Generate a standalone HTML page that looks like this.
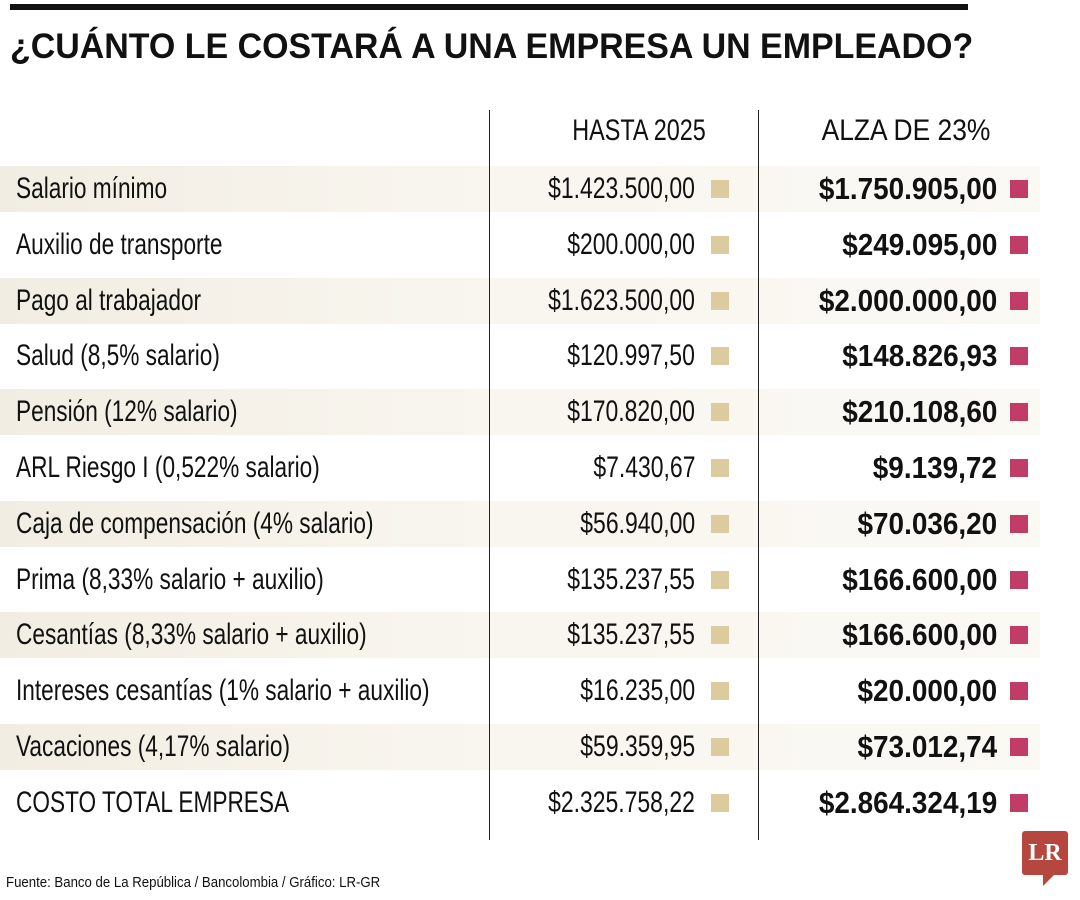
<!DOCTYPE html>
<html><head><meta charset="utf-8">
<style>
body{margin:0;width:1080px;height:900px;background:#fff;position:relative;overflow:hidden;font-family:"Liberation Sans",sans-serif;color:#111}
.a{position:absolute;white-space:nowrap}
.stripe{position:absolute;left:0;width:1040px;height:46px;background:linear-gradient(90deg,#f2ede2 0%,#f8f5ee 40%,#fbf9f4 100%)}
.lbl{left:16px;font-size:30px;line-height:46px;transform:scaleX(0.755);transform-origin:left center}
.v1{right:385px;font-size:30px;line-height:46px;text-align:right;transform:scaleX(0.765);transform-origin:right center}
.v2{right:83px;font-size:31px;font-weight:bold;line-height:46px;text-align:right;transform:scaleX(0.9);transform-origin:right center}
.sq{position:absolute;width:18px;height:18px}
</style></head><body>
<div class="a" style="left:10px;top:4px;width:958px;height:6px;background:#111"></div>
<div class="a" style="left:10px;top:27px;font-weight:bold;font-size:35px;transform:scaleX(0.97);transform-origin:left">¿CUÁNTO LE COSTARÁ A UNA EMPRESA UN EMPLEADO?</div>
<div id="rows"></div>
<div class="a" style="left:489px;top:110px;width:1px;height:730px;background:#222"></div>
<div class="a" style="left:758px;top:110px;width:1px;height:730px;background:#222"></div>
<div class="a" style="left:539px;width:200px;text-align:center;top:114px;font-size:30px;transform:scaleX(0.78)">HASTA 2025</div>
<div class="a" style="left:806px;width:200px;text-align:center;top:114px;font-size:30px;transform:scaleX(0.88)">ALZA DE 23%</div>
<div class="a" style="left:6px;top:874px;font-size:15px;transform:scaleX(0.88);transform-origin:left">Fuente: Banco de La República / Bancolombia / Gráfico: LR-GR</div>
<div class="a" style="left:1022px;top:831px;width:46px;height:44px;background:#b5473e;border-radius:3px;color:#fff;font-family:'Liberation Serif',serif;font-weight:bold;font-size:24px;line-height:44px;text-align:center">LR</div>
<div class="a" style="left:1043px;top:874px;width:0;height:0;border-right:12px solid transparent;border-top:12px solid #b5473e"></div>
<script>
const labels=["Salario mínimo","Auxilio de transporte","Pago al trabajador","Salud (8,5% salario)","Pensión (12% salario)","ARL Riesgo I (0,522% salario)","Caja de compensación (4% salario)","Prima (8,33% salario + auxilio)","Cesantías (8,33% salario + auxilio)","Intereses cesantías (1% salario + auxilio)","Vacaciones (4,17% salario)","COSTO TOTAL EMPRESA"];
const hasta2025=["$1.423.500,00","$200.000,00","$1.623.500,00","$120.997,50","$170.820,00","$7.430,67","$56.940,00","$135.237,55","$135.237,55","$16.235,00","$59.359,95","$2.325.758,22"];
const alza23=["$1.750.905,00","$249.095,00","$2.000.000,00","$148.826,93","$210.108,60","$9.139,72","$70.036,20","$166.600,00","$166.600,00","$20.000,00","$73.012,74","$2.864.324,19"];
const root=document.getElementById('rows');
labels.forEach((l,i)=>{
  const top=166+i*55.8;
  if(i%2===0&&i<11){const s=document.createElement('div');s.className='stripe';s.style.top=top+'px';
    
    root.appendChild(s);}
  const a=document.createElement('div');a.className='a lbl';a.style.top=top+'px';a.textContent=l;
  
  root.appendChild(a);
  const b=document.createElement('div');b.className='a v1';b.style.top=top+'px';b.textContent=hasta2025[i];
  
  root.appendChild(b);
  const q1=document.createElement('div');q1.className='sq';q1.style.cssText+='left:711px;top:'+(top+14)+'px;background:#dccb9f';
  
  root.appendChild(q1);
  const c=document.createElement('div');c.className='a v2';c.style.top=top+'px';c.textContent=alza23[i];
  
  root.appendChild(c);
  const q2=document.createElement('div');q2.className='sq';q2.style.cssText+='left:1010px;top:'+(top+14)+'px;background:#c23c68';
  
  root.appendChild(q2);
});
</script>
</body></html>
